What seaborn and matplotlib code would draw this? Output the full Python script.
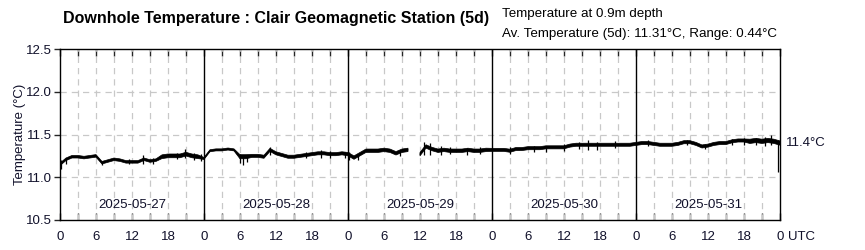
import numpy as np
import pandas as pd
import matplotlib
matplotlib.use("Agg")
import matplotlib.pyplot as plt
import seaborn as sns

# hourly readings (hours since 2025-05-27 00:00 UTC)
hours = list(range(121))
temp_mid = [
    11.15, 11.21, 11.24, 11.24, 11.23, 11.24, 11.25, 11.17, 11.19, 11.21, 11.20, 11.18,
    11.18, 11.18, 11.21, 11.19, 11.20, 11.24, 11.25, 11.25, 11.25, 11.27, 11.25, 11.24,
    11.22, 11.31, 11.32, 11.32, 11.33, 11.32, 11.24, 11.24, 11.25, 11.25, 11.24, 11.32,
    11.28, 11.26, 11.24, 11.24, 11.25, 11.26, 11.27, 11.28, 11.28, 11.27, 11.27, 11.28,
    11.27, 11.23, 11.27, 11.31, 11.31, 11.31, 11.32, 11.31, 11.28, 11.31, 11.32, np.nan,
    11.27, 11.36, 11.33, 11.31, 11.32, 11.31, 11.31, 11.31, 11.32, 11.31, 11.31, 11.32,
    11.32, 11.32, 11.32, 11.31, 11.33, 11.33, 11.34, 11.34, 11.34, 11.35, 11.35, 11.35,
    11.35, 11.37, 11.38, 11.38, 11.38, 11.38, 11.38, 11.38, 11.38, 11.38, 11.38, 11.38,
    11.39, 11.40, 11.40, 11.39, 11.38, 11.38, 11.38, 11.39, 11.41, 11.41, 11.39, 11.36,
    11.37, 11.39, 11.40, 11.40, 11.42, 11.43, 11.43, 11.42, 11.43, 11.42, 11.43, 11.42,
    11.40,
]
# half width of the short-term noise band
temp_spread = (
    [0.015] * 17 + [0.022] * 7
    + [0.012] * 6 + [0.024] * 2 + [0.018] * 16
    + [0.02] * 24
    + [0.018] * 24
    + [0.018] * 19 + [0.025] * 6
)

# isolated spikes: hour, low, high
spike_hours = [0.2, 1.0, 7.0, 11.5, 13.8, 15.5, 19.5, 20.8, 22.3, 23.5,
               30.0, 30.5, 31.2, 35.0, 41.0, 43.5, 45.0, 47.5,
               48.2, 49.7, 56.7, 60.6, 61.6, 63.5, 65.0, 67.8, 70.0,
               75.0, 79.0, 81.0, 84.0, 86.5, 88.0, 89.5, 92.5,
               98.0, 104.5, 107.5, 112.0, 114.0, 116.0, 117.5, 118.5, 119.7]
spike_low = [11.10, 11.15, 11.14, 11.15, 11.15, 11.16, 11.21, 11.22, 11.20, 11.19,
             11.17, 11.14, 11.18, 11.26, 11.22, 11.23, 11.23, 11.22,
             11.20, 11.20, 11.25, 11.26, 11.26, 11.26, 11.27, 11.26, 11.27,
             11.27, 11.30, 11.29, 11.31, 11.33, 11.32, 11.32, 11.34,
             11.37, 11.38, 11.33, 11.38, 11.38, 11.38, 11.37, 11.38, 11.06]
spike_high = [11.20, 11.22, 11.19, 11.21, 11.26, 11.23, 11.28, 11.33, 11.28, 11.27,
              11.27, 11.25, 11.26, 11.35, 11.30, 11.32, 11.31, 11.30,
              11.30, 11.27, 11.31, 11.41, 11.40, 11.36, 11.35, 11.34, 11.35,
              11.35, 11.37, 11.37, 11.39, 11.41, 11.43, 11.41, 11.42,
              11.43, 11.44, 11.39, 11.45, 11.46, 11.46, 11.47, 11.50, 11.44]

days = ["2025-05-27", "2025-05-28", "2025-05-29", "2025-05-30", "2025-05-31"]
hour_labels = ["0", "6", "12", "18"]
last_value = "11.4°C"

sns.set_style("white")
plt.rcParams['font.family'] = ['Liberation Sans', 'DejaVu Sans']
txt = '#10102a'

df = pd.DataFrame({'hour': hours, 'temp': temp_mid, 'spread': temp_spread})
df['segment'] = (df['temp'].isna()).cumsum()
df['low'] = df['temp'] - df['spread']
df['high'] = df['temp'] + df['spread']

fig = plt.figure(figsize=(8.65, 2.5), dpi=100)
ax = fig.add_axes([60 / 865, 30 / 250, 720 / 865, 171 / 250])

# grid
for h in range(3, 120, 3):
    if h % 24:
        ax.axvline(h, color='#c8c8c8', lw=0.9, ls=(0, (5, 4)), zorder=1)
for t in [11.0, 11.5, 12.0]:
    ax.axhline(t, color='#c8c8c8', lw=0.9, ls=(0, (5, 4)), zorder=1)
for d in range(1, 5):
    ax.axvline(d * 24, color='black', lw=1.0, zorder=2)

ax.fill_between(df['hour'], df['low'], df['high'], color='black', lw=0.5, zorder=3)
sns.lineplot(data=df.dropna(), x='hour', y='temp', units='segment', estimator=None,
             color='black', lw=0.8, ax=ax, zorder=4)
ax.vlines(spike_hours, spike_low, spike_high, color='black', lw=0.9, zorder=4)

ax.set_xlim(0, 120)
ax.set_ylim(10.5, 12.5)
ax.set_xlabel('')
ax.set_ylabel('Temperature (°C)', fontsize=9.5, color=txt, labelpad=0)

ax.set_yticks([10.5, 11.0, 11.5, 12.0, 12.5])
ax.set_yticklabels(['10.5', '11.0', '11.5', '12.0', '12.5'])
ax.tick_params(axis='y', direction='out', length=4, width=1, labelsize=9.5,
               labelcolor=txt, left=True, pad=2)
ax.set_xticks(range(0, 121, 3), minor=False)
ax.set_xticklabels([hour_labels[(h % 24) // 6] if h % 6 == 0 else '' for h in range(0, 121, 3)])
ax.tick_params(axis='x', direction='in', length=5, width=1, labelsize=9.5,
               labelcolor=txt, top=True, bottom=True, pad=8)
for s in ax.spines.values():
    s.set_color('black')
    s.set_linewidth(1.0)

for i, d in enumerate(days):
    ax.text(i * 24 + 12, 10.675, d, ha='center', va='center', fontsize=9.5, color=txt, zorder=5)

ax.annotate('UTC', xy=(121.3, 0), xycoords=('data', 'axes fraction'),
            xytext=(0, -8), textcoords='offset points', ha='left', va='top',
            fontsize=9.5, color=txt)
ax.text(121.0, 11.4, last_value, ha='left', va='center', fontsize=9.5, color=txt)

fig.text(63 / 865, 1 - 19 / 250, 'Downhole Temperature : Clair Geomagnetic Station (5d)',
         ha='left', va='center', fontsize=11.5, fontweight='bold', color='black')
fig.text(502 / 865, 1 - 14 / 250, 'Temperature at 0.9m depth',
         ha='left', va='center', fontsize=9.6, color='black')
fig.text(502 / 865, 1 - 34 / 250, 'Av. Temperature (5d): 11.31°C, Range: 0.44°C',
         ha='left', va='center', fontsize=9.6, color='black')

fig.savefig('out.png', dpi=100)
